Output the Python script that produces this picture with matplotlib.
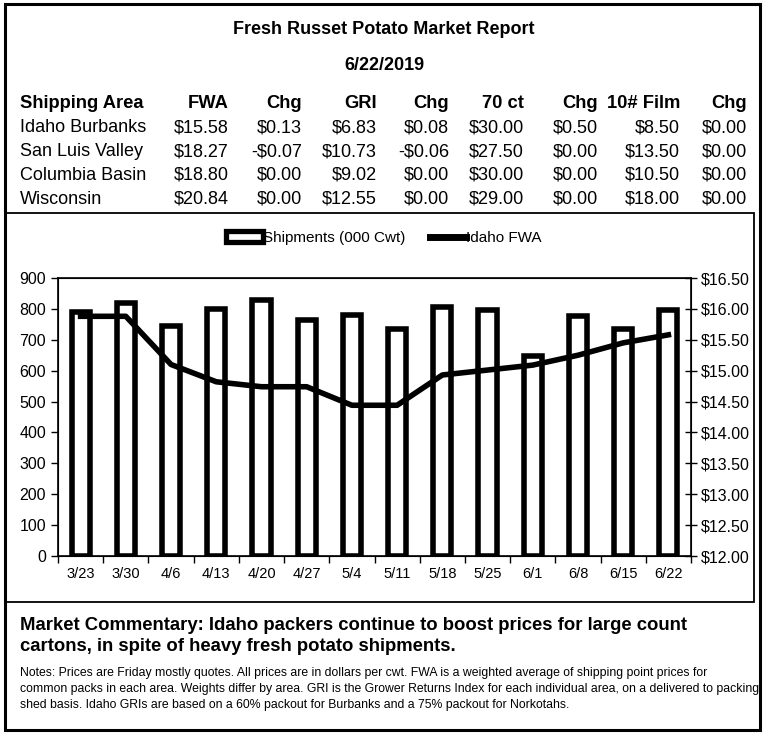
import numpy as np
import matplotlib.pyplot as plt
from matplotlib.patches import Rectangle
from matplotlib.lines import Line2D

plt.rcParams['font.family'] = ['Liberation Sans', 'DejaVu Sans']

# report table
title = 'Fresh Russet Potato Market Report'
report_date = '6/22/2019'
columns = ['Shipping Area', 'FWA', 'Chg', 'GRI', 'Chg', '70 ct', 'Chg', '10# Film', 'Chg']
areas = ['Idaho Burbanks', 'San Luis Valley', 'Columbia Basin', 'Wisconsin']
fwa = ['$15.58', '$18.27', '$18.80', '$20.84']
fwa_chg = ['$0.13', '-$0.07', '$0.00', '$0.00']
gri = ['$6.83', '$10.73', '$9.02', '$12.55']
gri_chg = ['$0.08', '-$0.06', '$0.00', '$0.00']
ct70 = ['$30.00', '$27.50', '$30.00', '$29.00']
ct70_chg = ['$0.50', '$0.00', '$0.00', '$0.00']
film = ['$8.50', '$13.50', '$10.50', '$18.00']
film_chg = ['$0.00', '$0.00', '$0.00', '$0.00']

# chart data
weeks = ['3/23', '3/30', '4/6', '4/13', '4/20', '4/27', '5/4', '5/11',
         '5/18', '5/25', '6/1', '6/8', '6/15', '6/22']
shipments = [790, 820, 745, 800, 830, 765, 780, 735, 805, 795, 648, 778, 735, 795]
idaho_fwa = [15.88, 15.88, 15.10, 14.82, 14.74, 14.74, 14.44, 14.44,
             14.93, 15.01, 15.09, 15.25, 15.45, 15.58]

commentary = ('Market Commentary: Idaho packers continue to boost prices for large count\n'
              'cartons, in spite of heavy fresh potato shipments.')
notes = ('Notes: Prices are Friday mostly quotes. All prices are in dollars per cwt. FWA is a weighted average of shipping point prices for\n'
         'common packs in each area. Weights differ by area. GRI is the Grower Returns Index for each individual area, on a delivered to packing\n'
         'shed basis. Idaho GRIs are based on a 60% packout for Burbanks and a 75% packout for Norkotahs.')

W, H = 766, 739
fig = plt.figure(figsize=(W / 100, H / 100), dpi=100)

def fx(px):
    return px / W

def fy(py):
    return 1 - py / H

# borders
fig.add_artist(Rectangle((fx(5), fy(730)), fx(760) - fx(5), fy(4) - fy(730),
                         transform=fig.transFigure, fill=False, lw=2.2, ec='black'))
fig.add_artist(Rectangle((fx(5), fy(602)), fx(754) - fx(5), fy(213) - fy(602),
                         transform=fig.transFigure, fill=False, lw=1.3, ec='black'))

# header text
fig.text(fx(384), fy(29), title, ha='center', va='center', fontsize=13, fontweight='bold')
fig.text(fx(384), fy(65), report_date, ha='center', va='center', fontsize=13, fontweight='bold')

col_x = [20, 229, 302, 377, 449, 524, 598, 680, 747]
row_y = [104, 128, 152, 175, 199]
for i, c in enumerate(columns):
    fig.text(fx(col_x[i]), fy(row_y[0]), c, ha='left' if i == 0 else 'right',
             va='center', fontsize=13.2, fontweight='bold')
table_cols = [areas, fwa, fwa_chg, gri, gri_chg, ct70, ct70_chg, film, film_chg]
for r in range(len(areas)):
    for i, col in enumerate(table_cols):
        fig.text(fx(col_x[i]), fy(row_y[r + 1]), col[r], ha='left' if i == 0 else 'right',
                 va='center', fontsize=13)

# chart
ax = fig.add_axes([fx(58), fy(556), fx(691) - fx(58), fy(278) - fy(556)])
x = np.arange(len(weeks))
ax.bar(x, shipments, width=0.4, color='white', edgecolor='black', linewidth=4, zorder=2)
ax.set_xlim(-0.5, len(weeks) - 0.5)
ax.set_ylim(0, 900)
ax.set_yticks(range(0, 901, 100))
ax.set_xticks(np.arange(-0.5, len(weeks), 1.0))
ax.set_xticklabels([])
ax.set_xticks(x, minor=True)
ax.set_xticklabels(weeks, minor=True)
ax.tick_params(axis='x', which='major', direction='out', length=5, width=1)
ax.tick_params(axis='x', which='minor', length=0, pad=8, labelsize=10.5)
ax.tick_params(axis='y', direction='out', length=5, width=1, labelsize=11.5)
for s in ax.spines.values():
    s.set_linewidth(1.2)

ax2 = ax.twinx()
ax2.plot(x, idaho_fwa, color='black', lw=4, zorder=3)
ax2.set_ylim(12, 16.5)
ax2.set_yticks(np.arange(12, 16.51, 0.5))
ax2.set_yticklabels(['${:.2f}'.format(v) for v in np.arange(12, 16.51, 0.5)])
ax2.tick_params(axis='y', direction='inout', length=8, width=1, labelsize=11.5, pad=3)

handles = [Rectangle((0, 0), 1, 1, fc='white', ec='black', lw=3.8),
           Line2D([0], [0], color='black', lw=5)]
fig.legend(handles, ['Shipments (000 Cwt)', 'Idaho FWA'], loc='center',
           bbox_to_anchor=(fx(384), fy(238)), ncol=2, frameon=False, fontsize=11,
           handlelength=2.4, handletextpad=0.0, columnspacing=1.6)

# commentary and notes
fig.text(fx(20), fy(636), commentary, ha='left', va='center', fontsize=13.3,
         fontweight='bold', linespacing=1.3)
fig.text(fx(20), fy(689), notes, ha='left', va='center', fontsize=8.85, linespacing=1.42)

fig.savefig('out.png', dpi=100)
